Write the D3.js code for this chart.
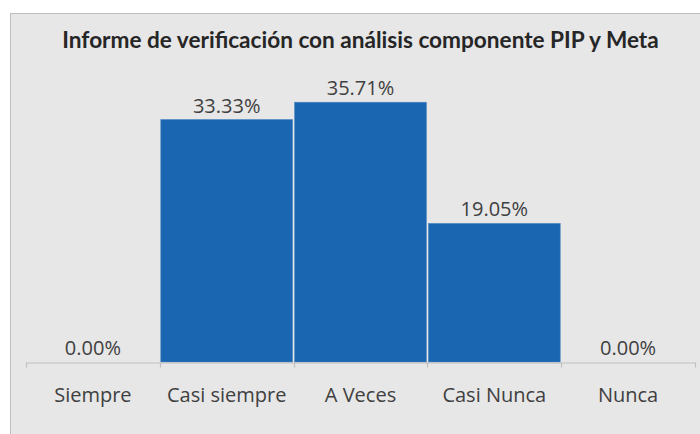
<!DOCTYPE html>
<html>
<head>
<meta charset="utf-8">
<script src="https://cdn.jsdelivr.net/npm/d3@7"></script>
<style>
  body { margin: 0; background: #fff; }
  svg { display: block; font-family: "Open Sans", sans-serif; }
</style>
</head>
<body>
<svg id="chart" width="700" height="434"></svg>
<script>
const categories = ['Siempre', 'Casi siempre', 'A Veces', 'Casi Nunca', 'Nunca'];
const percents = [0, 33.33, 35.71, 19.05, 0];
const title = 'Informe de verificación con análisis componente PIP y Meta';

const svg = d3.select('#chart');
const textColor = '#404040';

// chart area box (runs off the right and bottom edge)
svg.append('rect')
   .attr('x', 10.5).attr('y', 13.5)
   .attr('width', 720).attr('height', 450)
   .attr('fill', '#e7e7e7')
   .attr('stroke', '#bdbdbd');

const x = d3.scaleBand().domain(categories).range([26, 695]).padding(0);
const y = d3.scaleLinear().domain([0, 40]).range([362, 71]);

// bars
svg.append('g')
   .selectAll('rect')
   .data(percents)
   .join('rect')
     .attr('x', (d, i) => x(categories[i]) + 1)
     .attr('y', d => y(d))
     .attr('width', x.bandwidth() - 2)
     .attr('height', d => y(0) - y(d))
     .attr('fill', '#1a66b0')
     .attr('stroke', '#4f86c2')
     .attr('stroke-width', 0.6);

// axis
const axis = svg.append('g')
   .attr('transform', `translate(0,${y(0) + 0.5})`)
   .call(d3.axisBottom(x).tickSize(0).tickPadding(0));
axis.select('.domain').attr('stroke', '#bfbfbf').attr('stroke-width', 1.2);
axis.selectAll('.tick text').remove();

// tick marks on band edges
const edges = categories.map(c => x(c)).concat([x.range()[1]]);
axis.selectAll('line.edge')
   .data(edges)
   .join('line')
     .attr('class', 'edge')
     .attr('x1', d => Math.round(d) + 0.5).attr('x2', d => Math.round(d) + 0.5)
     .attr('y1', 0).attr('y2', 5)
     .attr('stroke', '#bfbfbf').attr('stroke-width', 1.2);

// category labels
svg.append('g')
   .selectAll('text')
   .data(categories)
   .join('text')
     .attr('x', d => x(d) + x.bandwidth() / 2)
     .attr('y', 402)
     .attr('text-anchor', 'middle')
     .attr('fill', textColor)
     .style('font-size', '20px')
     .text(d => d);

// value labels
svg.append('g')
   .selectAll('text')
   .data(percents)
   .join('text')
     .attr('x', (d, i) => x(categories[i]) + x.bandwidth() / 2)
     .attr('y', d => y(d) - 7)
     .attr('text-anchor', 'middle')
     .attr('fill', textColor)
     .style('font-size', '20px')
     .text(d => `${d.toFixed(2)}%`);

// title
svg.append('text')
   .attr('x', 360.5)
   .attr('y', 48)
   .attr('text-anchor', 'middle')
   .attr('fill', '#262626')
   .style('font-family', 'Lato, sans-serif')
   .style('font-size', '22.6px')
   .style('font-weight', 'bold')
   .text(title);
</script>
</body>
</html>
